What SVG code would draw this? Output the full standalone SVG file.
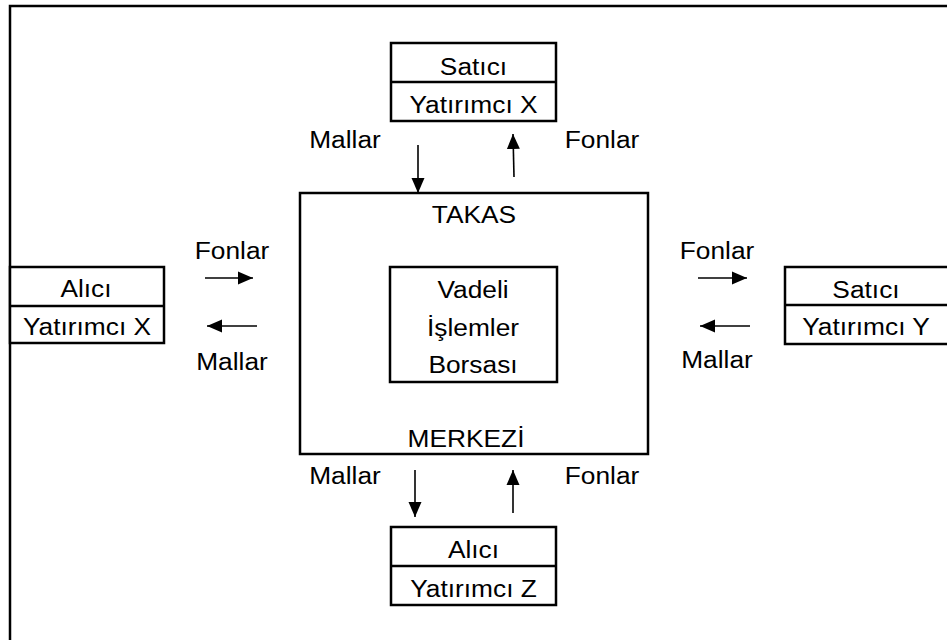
<svg xmlns="http://www.w3.org/2000/svg" width="947" height="640" viewBox="0 0 947 640">
  <style>
    .box { fill: #fff; stroke: #000; stroke-width: 2.5; }
    .div { stroke: #000; stroke-width: 2.5; }
    .t { font-family: "Liberation Sans", Arial, sans-serif; font-size: 23.5px; fill: #000; text-anchor: middle; }
    .flow { stroke: #000; stroke-width: 1.6; fill: none; marker-end: url(#head); }
  </style>
  <defs>
    <marker id="head" markerUnits="userSpaceOnUse" markerWidth="16" markerHeight="14" refX="15" refY="7" orient="auto">
      <path d="M0,0.5 L15,7 L0,13.5 z" fill="#000"/>
    </marker>
  </defs>

  <rect width="947" height="640" fill="#fff"/>
  <!-- outer frame -->
  <rect x="10" y="6" width="950" height="650" fill="none" stroke="#000" stroke-width="2.5"/>

  <!-- clearing house with the exchange inside -->
  <g id="takas">
    <rect class="box" x="300" y="193" width="348" height="261"/>
    <text class="t" transform="translate(474,223) scale(1.12,1)">TAKAS</text>
    <text class="t" transform="translate(466,447) scale(1.12,1)">MERKEZİ</text>
  </g>
  <g id="borsa">
    <rect class="box" x="390" y="267" width="167" height="115"/>
    <text class="t" transform="translate(473,298) scale(1.12,1)">Vadeli</text>
    <text class="t" transform="translate(473,336) scale(1.12,1)">İşlemler</text>
    <text class="t" transform="translate(473,373) scale(1.12,1)">Borsası</text>
  </g>

  <!-- trading parties -->
  <g id="satici-x">
    <rect class="box" x="391" y="43" width="165" height="78"/>
    <line class="div" x1="391" y1="82" x2="556" y2="82"/>
    <text class="t" transform="translate(473.5,75) scale(1.12,1)">Satıcı</text>
    <text class="t" transform="translate(473.5,113) scale(1.12,1)">Yatırımcı X</text>
  </g>
  <g id="alici-x">
    <rect class="box" x="10" y="267" width="154" height="76"/>
    <line class="div" x1="10" y1="306" x2="164" y2="306"/>
    <text class="t" transform="translate(86,297) scale(1.12,1)">Alıcı</text>
    <text class="t" transform="translate(87,335) scale(1.12,1)">Yatırımcı X</text>
  </g>
  <g id="satici-y">
    <rect class="box" x="785" y="267" width="170" height="77"/>
    <line class="div" x1="785" y1="305" x2="955" y2="305"/>
    <text class="t" transform="translate(866,298) scale(1.12,1)">Satıcı</text>
    <text class="t" transform="translate(866,335) scale(1.12,1)">Yatırımcı Y</text>
  </g>
  <g id="alici-z">
    <rect class="box" x="391" y="527" width="165" height="78"/>
    <line class="div" x1="391" y1="566" x2="556" y2="566"/>
    <text class="t" transform="translate(473.5,558) scale(1.12,1)">Alıcı</text>
    <text class="t" transform="translate(473.5,597) scale(1.12,1)">Yatırımcı Z</text>
  </g>

  <!-- flows of goods and funds -->
  <g id="connectors">
    <line class="flow" x1="418" y1="145" x2="418" y2="193"/>
    <line class="flow" x1="514" y1="177" x2="513" y2="134"/>
    <line class="flow" x1="205" y1="278" x2="253" y2="278"/>
    <line class="flow" x1="257" y1="326" x2="207" y2="326"/>
    <line class="flow" x1="698" y1="278" x2="747" y2="278"/>
    <line class="flow" x1="750" y1="326" x2="700" y2="326"/>
    <line class="flow" x1="415" y1="470" x2="415" y2="517"/>
    <line class="flow" x1="513" y1="513" x2="513" y2="470"/>
  </g>

  <!-- flow labels -->
  <g id="labels">
    <text class="t" transform="translate(345,148) scale(1.12,1)">Mallar</text>
    <text class="t" transform="translate(602,148) scale(1.12,1)">Fonlar</text>
    <text class="t" transform="translate(232,259) scale(1.12,1)">Fonlar</text>
    <text class="t" transform="translate(232,370) scale(1.12,1)">Mallar</text>
    <text class="t" transform="translate(717,259) scale(1.12,1)">Fonlar</text>
    <text class="t" transform="translate(717,368) scale(1.12,1)">Mallar</text>
    <text class="t" transform="translate(345,484) scale(1.12,1)">Mallar</text>
    <text class="t" transform="translate(602,484) scale(1.12,1)">Fonlar</text>
  </g>
</svg>
